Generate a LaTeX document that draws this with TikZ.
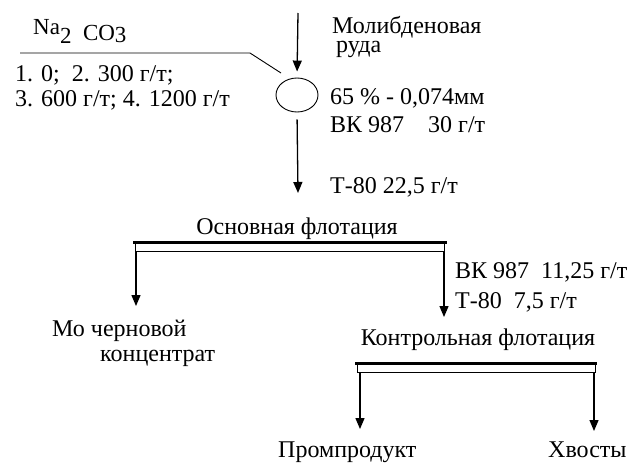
\documentclass[tikz,border=0pt]{standalone}
\usepackage{fontspec}
\setmainfont{Liberation Serif}
\newfontfamily\schemefont{Liberation Serif}
\usetikzlibrary{shapes.geometric,arrows.meta}
\begin{document}
\begin{tikzpicture}[x=1pt,y=-1pt]

  \tikzset{txt/.style={inner sep=0pt,anchor=base west,font=\schemefont\fontsize{24}{19}\selectfont},
    flow/.style={-{Triangle[length=11pt,width=9pt]},line width=1.3pt},
    bar/.style={line width=3pt}}
  \useasboundingbox (0,0) rectangle (642,463);
  % feed and conditioning
  \coordinate (in) at (298,13);
  \node[draw,ellipse,minimum width=42pt,minimum height=34pt,inner sep=0pt,line width=0.9pt] (cond) at (297,95) {};
  \draw[flow,shorten >=6pt] (in) -- (cond.north);
  \node[txt,font=\schemefont\fontsize{23}{24}\selectfont] (soda) at (33,40) {\raisebox{6pt}{Na}\raisebox{-3pt}{2}\ \ CO\raisebox{-2pt}{3}};
  \coordinate (s1) at (20,53);
  \coordinate (s2) at (250,53);
  \coordinate (s3) at (281,73);
  \draw[line width=0.9pt] (s1) -- (s2) -- (s3);
  \node[txt] (d1) at (15,81) {1. 0;\ \ 2. 300 г/т;};
  \node[txt] (d2) at (15,106) {3. 600 г/т; 4. 1200 г/т};
  \node[txt,align=left] (ore) at (332,52) {Молибденовая\\\hspace*{4pt}руда};
  \node[txt] (ore3) at (330,104) {65 \% - 0,074мм};
  \node[txt] (r1) at (330,132) {ВК 987\quad 30 г/т};
  \node[txt] (r2) at (330,193) {Т-80 22,5 г/т};
  \coordinate (out) at (298,193);
  \draw[flow,shorten <=7pt] (cond.south) -- (out);
  % rougher flotation
  \node[txt,anchor=base] (main) at (297,234) {Основная флотация};
  \coordinate (b1) at (133,242);
  \coordinate (b2) at (447,242);
  \draw[line width=0.9pt] (135,242) rectangle (444,251);
  \draw[bar] (b1) -- (b2);
  \coordinate (c1) at (136,251);
  \coordinate (c2) at (444,251);
  \coordinate (c1e) at (136,306);
  \coordinate (c2e) at (444,317);
  \draw[flow] (c1) -- (c1e);
  \draw[flow] (c2) -- (c2e);
  \node[txt] (r3) at (455,278) {ВК 987\ \ 11,25 г/т};
  \node[txt] (r4) at (455,308) {Т-80\ \ 7,5 г/т};
  \node[txt] (conc1) at (52,336) {Мо черновой};
  \node[txt] (conc2) at (100,361) {концентрат};
  % scavenger flotation
  \node[txt,anchor=base] (scav) at (478,345) {Контрольная флотация};
  \coordinate (e1) at (355,363);
  \coordinate (e2) at (597,363);
  \draw[line width=0.9pt] (357,363) rectangle (595,372);
  \draw[bar] (e1) -- (e2);
  \coordinate (f1) at (360,372);
  \coordinate (f2) at (594,372);
  \coordinate (f1e) at (360,429);
  \coordinate (f2e) at (594,431);
  \draw[flow] (f1) -- (f1e);
  \draw[flow] (f2) -- (f2e);
  \node[txt] (mid) at (278,457) {Промпродукт};
  \node[txt] (tail) at (548,457) {Хвосты};
\end{tikzpicture}
\end{document}
